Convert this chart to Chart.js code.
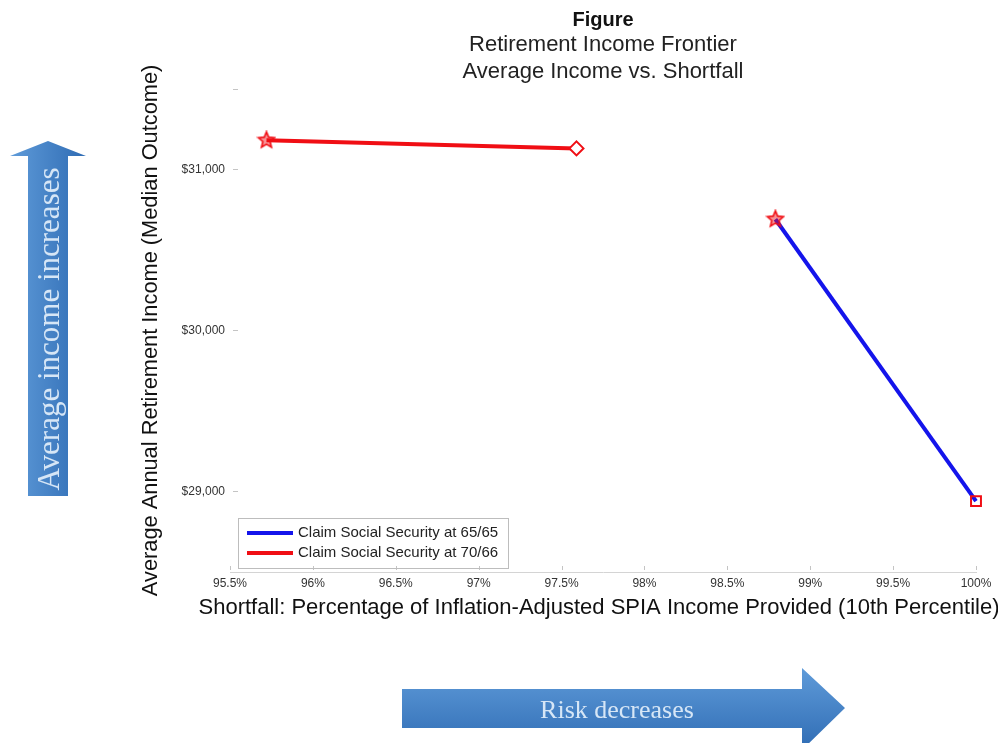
<!DOCTYPE html>
<html>
<head>
<meta charset="utf-8">
<title>Retirement Income Frontier</title>
<script src="https://cdn.jsdelivr.net/npm/chart.js@4.4.1/dist/chart.umd.min.js"></script>
<style>
  html, body { margin: 0; padding: 0; background: #fff; }
  #frontier { display: block; }
</style>
</head>
<body>
<canvas id="frontier" width="998" height="743"></canvas>
<script>
// values
const shortfall6565 = [98.79, 100.0];
const income6565 = [30690, 28940];
const shortfall7066 = [95.72, 97.59];
const income7066 = [31180, 31130];
const seriesNames = ['Claim Social Security at 65/65', 'Claim Social Security at 70/66'];
const xTicks = [95.5, 96, 96.5, 97, 97.5, 98, 98.5, 99, 99.5, 100];
const yTicks = [29000, 30000, 31000];
const xTitle = 'Shortfall: Percentage of Inflation-Adjusted SPIA Income Provided (10th Percentile)';

const RED = 'rgb(240, 14, 20)';
const BLUE = 'rgb(20, 20, 235)';
const SANS = "'Liberation Sans', Arial, sans-serif";
const SERIF = "'Liberation Serif', 'DejaVu Serif', serif";

// red outlined star used as the first marker of each line
function makeStar(size) {
  const c = document.createElement('canvas');
  c.width = size; c.height = size;
  const g = c.getContext('2d');
  const cx = size / 2, cy = size / 2, ro = size / 2 - 1.5, ri = ro * 0.45;
  g.beginPath();
  for (let i = 0; i < 10; i++) {
    const r = i % 2 ? ri : ro;
    const a = -Math.PI / 2 + i * Math.PI / 5;
    g.lineTo(cx + r * Math.cos(a), cy + r * Math.sin(a));
  }
  g.closePath();
  g.fillStyle = 'rgba(240, 14, 20, 0.45)';
  g.fill();
  g.strokeStyle = RED;
  g.lineWidth = 1.6;
  g.stroke();
  return c;
}
const star = makeStar(20);

function toPoints(xs, ys) {
  return xs.map((x, i) => ({ x: x, y: ys[i] }));
}

// x title (wider than the plot), legend box and the blue arrows
const decorations = {
  id: 'decorations',
  afterDraw(chart) {
    const ctx = chart.ctx;
    const area = chart.chartArea;
    const xs = chart.scales.x, ys = chart.scales.y;
    ctx.save();

    // inward tick marks
    ctx.strokeStyle = '#c4c4c4';
    ctx.lineWidth = 1;
    xTicks.forEach(v => {
      const px = Math.round(xs.getPixelForValue(v)) + 0.5;
      ctx.beginPath(); ctx.moveTo(px, area.bottom - 2); ctx.lineTo(px, area.bottom - 6); ctx.stroke();
    });
    yTicks.concat([ys.max]).forEach(v => {
      const py = Math.round(ys.getPixelForValue(v)) + 0.5;
      ctx.beginPath(); ctx.moveTo(area.left + 3, py); ctx.lineTo(area.left + 8, py); ctx.stroke();
    });

    // x axis title
    ctx.font = '22px ' + SANS;
    ctx.fillStyle = '#111';
    ctx.textAlign = 'center';
    ctx.textBaseline = 'middle';
    ctx.fillText(xTitle, 599, area.bottom + 36);

    // legend
    const lx = area.left + 8, ly = area.bottom - 54, lw = 270, lh = 50;
    ctx.strokeStyle = '#bdbdbd';
    ctx.strokeRect(lx + 0.5, ly + 0.5, lw, lh);
    const colors = [BLUE, RED];
    ctx.font = '15px ' + SANS;
    ctx.textAlign = 'left';
    seriesNames.forEach((name, i) => {
      const y = ly + 15 + i * 20;
      ctx.strokeStyle = colors[i];
      ctx.lineWidth = 4;
      ctx.beginPath(); ctx.moveTo(lx + 9, y); ctx.lineTo(lx + 55, y); ctx.stroke();
      ctx.fillStyle = '#222';
      ctx.fillText(name, lx + 60, y);
    });

    // vertical arrow: average income increases
    let grad = ctx.createLinearGradient(10, 0, 86, 0);
    grad.addColorStop(0, '#5f9bd9');
    grad.addColorStop(1, '#2f6cb4');
    ctx.fillStyle = grad;
    ctx.beginPath();
    ctx.moveTo(28, 496); ctx.lineTo(28, 156); ctx.lineTo(10, 156); ctx.lineTo(48, 141);
    ctx.lineTo(86, 156); ctx.lineTo(68, 156); ctx.lineTo(68, 496);
    ctx.closePath(); ctx.fill();
    ctx.save();
    ctx.translate(50, 329);
    ctx.rotate(-Math.PI / 2);
    ctx.font = '31px ' + SERIF;
    ctx.textAlign = 'center';
    ctx.fillStyle = '#d6e6f6';
    ctx.fillText('Average income increases', 0, 1);
    ctx.restore();

    // horizontal arrow: risk decreases
    grad = ctx.createLinearGradient(0, 668, 0, 750);
    grad.addColorStop(0, '#5f9bd9');
    grad.addColorStop(1, '#2f6cb4');
    ctx.fillStyle = grad;
    ctx.beginPath();
    ctx.moveTo(402, 689); ctx.lineTo(802, 689); ctx.lineTo(802, 668); ctx.lineTo(845, 708);
    ctx.lineTo(802, 750); ctx.lineTo(802, 728); ctx.lineTo(402, 728);
    ctx.closePath(); ctx.fill();
    ctx.font = '26px ' + SERIF;
    ctx.textAlign = 'center';
    ctx.fillStyle = '#d6e6f6';
    ctx.fillText('Risk decreases', 617, 711);

    ctx.restore();
  }
};

const ctx = document.getElementById('frontier').getContext('2d');

new Chart(ctx, {
  type: 'scatter',
  data: {
    datasets: [{
      label: seriesNames[0],
      data: toPoints(shortfall6565, income6565),
      showLine: true,
      clip: false,
      borderColor: BLUE,
      borderWidth: 4,
      tension: 0,
      pointStyle: [star, 'rect'],
      pointRadius: 7,
      pointBorderColor: RED,
      pointBorderWidth: 2,
      pointBackgroundColor: 'rgba(0,0,0,0)',
    }, {
      label: seriesNames[1],
      data: toPoints(shortfall7066, income7066),
      showLine: true,
      clip: false,
      borderColor: RED,
      borderWidth: 4,
      tension: 0,
      pointStyle: [star, 'rectRot'],
      pointRadius: 7,
      pointBorderColor: RED,
      pointBorderWidth: 2,
      pointBackgroundColor: '#fff',
    }]
  },
  options: {
    responsive: false,
    animation: false,
    layout: { padding: { left: 130, right: 22, top: 0, bottom: 0 } },
    plugins: {
      legend: { display: false },
      tooltip: { enabled: false },
      title: {
        display: true,
        text: 'Figure',
        fullSize: false,
        color: '#111',
        font: { family: SANS, size: 20, weight: 'bold', lineHeight: 0.8 },
        padding: { top: 12, bottom: 0 }
      },
      subtitle: {
        display: true,
        text: ['Retirement Income Frontier', 'Average Income vs. Shortfall'],
        fullSize: false,
        color: '#222',
        font: { family: SANS, size: 22, lineHeight: 1.2 },
        padding: { top: 4, bottom: 4 }
      }
    },
    scales: {
      x: {
        type: 'linear',
        min: 95.5,
        max: 100,
        afterBuildTicks: scale => { scale.ticks = xTicks.map(v => ({ value: v })); },
        afterFit: scale => { scale.height = 171; },
        grid: { display: false, drawTicks: false },
        border: { display: true, color: '#d4d4d4' },
        ticks: {
          padding: 4,
          color: '#333',
          font: { family: SANS, size: 12 },
          maxRotation: 0,
          callback: v => v + '%'
        },
        title: { display: false, text: xTitle }
      },
      y: {
        type: 'linear',
        min: 28500,
        max: 31500,
        afterBuildTicks: scale => { scale.ticks = yTicks.map(v => ({ value: v })); },
        afterFit: scale => { scale.width = 100; },
        grid: { display: false, drawTicks: false },
        border: { display: false },
        ticks: {
          padding: 5,
          color: '#333',
          font: { family: SANS, size: 12 },
          callback: v => '$' + v.toLocaleString('en-US')
        },
        title: {
          display: true,
          text: 'Average Annual Retirement Income (Median Outcome)',
          color: '#111',
          font: { family: SANS, size: 21.8 },
          padding: { top: 8, bottom: 0 }
        }
      }
    }
  },
  plugins: [decorations]
});
</script>
</body>
</html>
